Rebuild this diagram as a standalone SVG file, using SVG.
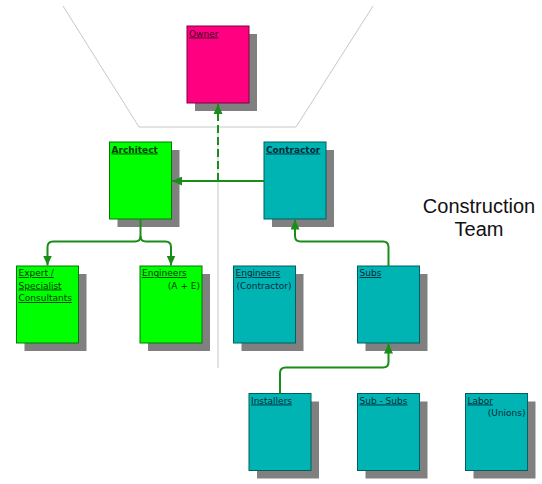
<svg xmlns="http://www.w3.org/2000/svg" width="542" height="484" viewBox="0 0 542 484">
<style>
.shadow{fill:#808080}
.box{stroke-width:1}
.own{fill:#ff0080;stroke:#800040}
.grn{fill:#00ff00;stroke:#007a00}
.tea{fill:#00b4b4;stroke:#005f5f}
.t{font-family:"DejaVu Sans",Verdana,sans-serif;font-size:9px;text-decoration:underline}
.b{font-weight:bold}
.tOwn{fill:#3a0020}
.tGrn{fill:#003800}
.tTea{fill:#002a36}
.sub{font-family:"DejaVu Sans",Verdana,sans-serif;font-size:9px}
.guide{fill:none;stroke:#c8c8c8;stroke-width:1}
.conn{fill:none;stroke:#1a8c1a;stroke-width:2}
.big{font-family:"Liberation Sans",Arial,sans-serif;font-size:20px;fill:#111111}
</style>
<defs>
<marker id="arr" markerUnits="userSpaceOnUse" markerWidth="10" markerHeight="9" refX="10" refY="4.5" orient="auto">
<path d="M0,0 L10,4.5 L0,9 z" fill="#1a8c1a"/>
</marker>
</defs>
<rect width="542" height="484" fill="#ffffff"/>
<g id="guides">
<polyline class="guide" points="63,6 139,127 296,127 373,6"/>
<line class="guide" x1="218" y1="127" x2="218" y2="368"/>
</g>
<g id="owner">
<rect class="shadow" x="195" y="34" width="62" height="77"/>
<rect class="box own" x="187" y="26" width="62" height="77"/>
<text class="t tOwn" x="189" y="36.5">Owner</text>
</g>
<g id="architect">
<rect class="shadow" x="117.5" y="150" width="62" height="77"/>
<rect class="box grn" x="109.5" y="142" width="62" height="77"/>
<text class="t b tGrn" x="111.5" y="152.5">Architect</text>
</g>
<g id="contractor">
<rect class="shadow" x="272" y="150" width="62" height="77"/>
<rect class="box tea" x="264" y="142" width="62" height="77"/>
<text class="t b tTea" x="266" y="152.5">Contractor</text>
</g>
<g id="expert">
<rect class="shadow" x="24.5" y="274" width="62" height="77"/>
<rect class="box grn" x="16.5" y="266" width="62" height="77"/>
<text class="t tGrn" x="18.5" y="276">Expert /</text>
<text class="t tGrn" x="18.5" y="288.5">Specialist</text>
<text class="t tGrn" x="18.5" y="301">Consultants</text>
</g>
<g id="engineers-ae">
<rect class="shadow" x="148" y="274" width="62" height="77"/>
<rect class="box grn" x="140" y="266" width="62" height="77"/>
<text class="t tGrn" x="142" y="276">Engineers</text>
<text class="sub tGrn" x="200" y="288.5" text-anchor="end">(A + E)</text>
</g>
<g id="engineers-contractor">
<rect class="shadow" x="241.5" y="274" width="62" height="77"/>
<rect class="box tea" x="233.5" y="266" width="62" height="77"/>
<text class="t tTea" x="235.5" y="276">Engineers</text>
<text class="sub tTea" x="236.5" y="288.5">(Contractor)</text>
</g>
<g id="subs">
<rect class="shadow" x="365.5" y="274" width="62" height="77"/>
<rect class="box tea" x="357.5" y="266" width="62" height="77"/>
<text class="t tTea" x="359.5" y="276">Subs</text>
</g>
<g id="installers">
<rect class="shadow" x="257" y="401.5" width="62" height="77"/>
<rect class="box tea" x="249" y="393.5" width="62" height="77"/>
<text class="t tTea" x="251" y="403.5">Installers</text>
</g>
<g id="sub-subs">
<rect class="shadow" x="365.5" y="401.5" width="62" height="77"/>
<rect class="box tea" x="357.5" y="393.5" width="62" height="77"/>
<text class="t tTea" x="359.5" y="403.5">Sub - Subs</text>
</g>
<g id="labor">
<rect class="shadow" x="473.5" y="401.5" width="62" height="77"/>
<rect class="box tea" x="465.5" y="393.5" width="62" height="77"/>
<text class="t tTea" x="467.5" y="403.5">Labor</text>
<text class="sub tTea" x="525.5" y="416" text-anchor="end">(Unions)</text>
</g>
<g id="label-construction-team">
<text class="big" x="479" y="213" text-anchor="middle">Construction</text>
<text class="big" x="479" y="236" text-anchor="middle">Team</text>
</g>
<g id="connectors">
<path class="conn" d="M218,181 V104" stroke-dasharray="8,4" marker-end="url(#arr)"/>
<path class="conn" d="M264,181 H172" marker-end="url(#arr)"/>
<path class="conn" d="M140.5,219 V236 Q140.5,241.5 135,241.5 H53 Q47.5,241.5 47.5,247 V265.5" marker-end="url(#arr)"/>
<path class="conn" d="M140.5,236 Q140.5,241.5 146,241.5 H165.5 Q171,241.5 171,247 V265.5" marker-end="url(#arr)"/>
<path class="conn" d="M388.5,266 V247 Q388.5,241.5 383,241.5 H300.5 Q295,241.5 295,236 V219.5" marker-end="url(#arr)"/>
<path class="conn" d="M280,393.5 V373 Q280,367.5 285.5,367.5 H383 Q388.5,367.5 388.5,362 V343.5" marker-end="url(#arr)"/>
</g>
</svg>
